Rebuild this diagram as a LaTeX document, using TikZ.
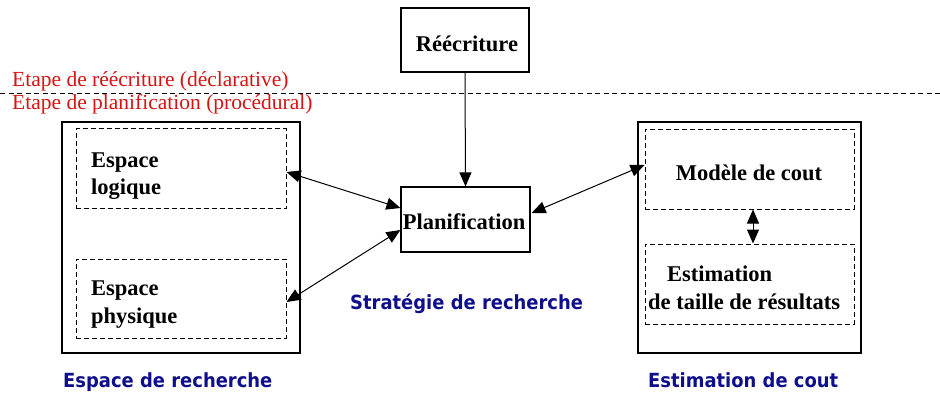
\documentclass[tikz,border=0pt]{standalone}
\usepackage{fontspec}
\setmainfont{Liberation Serif}
\newfontfamily\labelfont[FakeStretch=0.92]{DejaVu Sans Bold}
\usetikzlibrary{arrows.meta}
\definecolor{stagered}{RGB}{215,20,20}
\definecolor{labelblue}{RGB}{15,15,140}
\tikzset{
  x=1pt, y=-1pt,
  solidbox/.style={draw, line width=1.2pt, minimum width=#1, inner sep=0pt},
  dashbox/.style={draw, line width=1pt, dash pattern=on 5pt off 3pt, inner sep=0pt},
  boldtext/.style={font=\fontsize{22.5}{28}\selectfont\bfseries, inner sep=0pt},
  stagetext/.style={font=\fontsize{21.5}{25}\selectfont, text=stagered, inner sep=0pt, anchor=base west},
  grouplabel/.style={font=\labelfont\fontsize{19.5}{23}\selectfont, text=labelblue, inner sep=0pt, anchor=base west},
  link/.style={line width=1pt, {Triangle[length=14pt,width=12pt]}-{Triangle[length=14pt,width=12pt]}},
  onelink/.style={line width=1pt, -{Triangle[length=14pt,width=12pt]}}
}
\begin{document}
\begin{tikzpicture}
\path[use as bounding box] (0,0) rectangle (940,396);

% boundary between the two stages
\draw[line width=0.9pt, dash pattern=on 5pt off 3.5pt] (0,93) coordinate (sepL) -- (940,93) coordinate (sepR);
\node[stagetext] (stage1) at (12,86) {Etape de réécriture (déclarative)};
\node[stagetext] (stage2) at (12,109) {Etape de planification (procédural)};

% central boxes
\node[solidbox=128pt, minimum height=64pt] (rew) at (465,40) {};
\node[boldtext] (rewtxt) at (467,44) {Réécriture};
\node[solidbox=129pt, minimum height=65pt] (plan) at (465.5,219.5) {};
\node[boldtext] (plantxt) at (464,222) {Planification};

% search space
\node[solidbox=238pt, minimum height=231pt] (space) at (181,237.5) {};
\node[dashbox, minimum width=210pt, minimum height=80pt] (logique) at (181,168.5) {};
\node[dashbox, minimum width=210pt, minimum height=79pt] (physique) at (181,298.5) {};
\node[boldtext, anchor=base west] (esp1) at (91,167) {Espace};
\node[boldtext, anchor=base west] (log1) at (91,194) {logique};
\node[boldtext, anchor=base west] (esp2) at (91,295) {Espace};
\node[boldtext, anchor=base west] (phy2) at (91,323) {physique};

% cost estimation
\node[solidbox=223pt, minimum height=231pt] (cost) at (749.5,237.5) {};
\node[dashbox, minimum width=209pt, minimum height=80pt] (modele) at (749.5,169) {};
\node[dashbox, minimum width=209pt, minimum height=80pt] (estim) at (749.5,284) {};
\node[boldtext, anchor=base] (modtxt) at (749,180) {Modèle de cout};
\node[boldtext, anchor=base west] (est1) at (667,281) {Estimation};
\node[boldtext, anchor=base west] (est2) at (648,309) {de taille de résultats};

% group labels
\node[grouplabel] (lblstrat) at (350,309) {Stratégie de recherche};
\node[grouplabel] (lblspace) at (63,387) {Espace de recherche};
\node[grouplabel] (lblcost) at (648,387) {Estimation de cout};

% connectors
\draw[onelink] (rew.south) -- (plan.north);
\draw[link] ([yshift=-3.5pt]logique.east) -- ([yshift=11.5pt]plan.west);
\draw[link] ([yshift=-3.5pt]physique.east) -- ([yshift=-10.5pt]plan.west);
\draw[link] ([yshift=6.5pt,xshift=1pt]plan.east) -- ([yshift=4pt]modele.west);
\draw[link] ([xshift=3.5pt]modele.south) -- ([xshift=3.5pt]estim.north);
\end{tikzpicture}
\end{document}
